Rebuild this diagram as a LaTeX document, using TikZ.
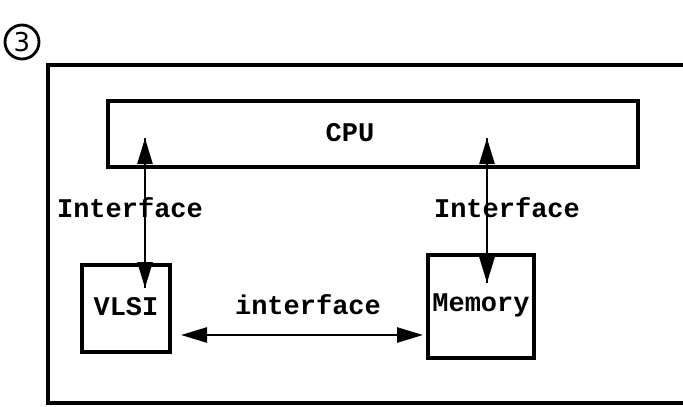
\documentclass[tikz,border=0pt]{standalone}
\usepackage{fontspec}
\setmonofont{Liberation Mono}
\setsansfont{DejaVu Sans}
\usetikzlibrary{arrows.meta}
\tikzset{
  box/.style={draw, line width=3.2pt, inner sep=0pt},
  lbl/.style={font=\ttfamily\bfseries\fontsize{27}{30}\selectfont, inner sep=0pt},
  conn/.style={line width=2.6pt, {Triangle[length=26pt,width=15pt]}-{Triangle[length=26pt,width=15pt]}}
}
\begin{document}
\begin{tikzpicture}[x=1pt,y=-1pt]
\useasboundingbox (0,0) rectangle (683,407);
% circled number
\node[draw, circle, line width=2.8pt, minimum size=34pt, inner sep=0pt,
      font=\sffamily\fontsize{26}{28}\selectfont] (num) at (22,42) {3};
% outer frame (right side runs off the page)
\draw[line width=3.4pt] (690,65) -- (48,65) -- (48,403) -- (690,403);
% boxes
\node[box, minimum width=530pt, minimum height=66pt] (cpu) at (373,134) {};
\node[lbl] (cputext) at (350,133) {CPU};
\node[box, minimum width=88pt, minimum height=87pt] (vlsi) at (126,308.5) {};
\node[lbl] (vlsitext) at (126,307) {VLSI};
\node[box, minimum width=106pt, minimum height=103pt] (mem) at (481,306.5) {};
\node[lbl] (memtext) at (481,305) {Memory};
% connector end points
\coordinate (l1) at (145,138);
\coordinate (l2) at (145,288);
\coordinate (r1) at (487,138);
\coordinate (r2) at (487,283);
\coordinate (h1) at (181,335);
\coordinate (h2) at (423,335);
\draw[conn] (l1) -- (l2);
\draw[conn] (r1) -- (r2);
\draw[conn] (h1) -- (h2);
% labels
\node[lbl, fill=white, inner sep=1pt] (il) at (130,208) {Interface};
\node[lbl, fill=white, inner sep=1pt] (ir) at (507,208) {Interface};
\node[lbl] (ih) at (308,305) {interface};
\draw[line width=2.6pt] (l1) -- (l2);
\draw[line width=2.6pt] (r1) -- (r2);
\end{tikzpicture}
\end{document}
